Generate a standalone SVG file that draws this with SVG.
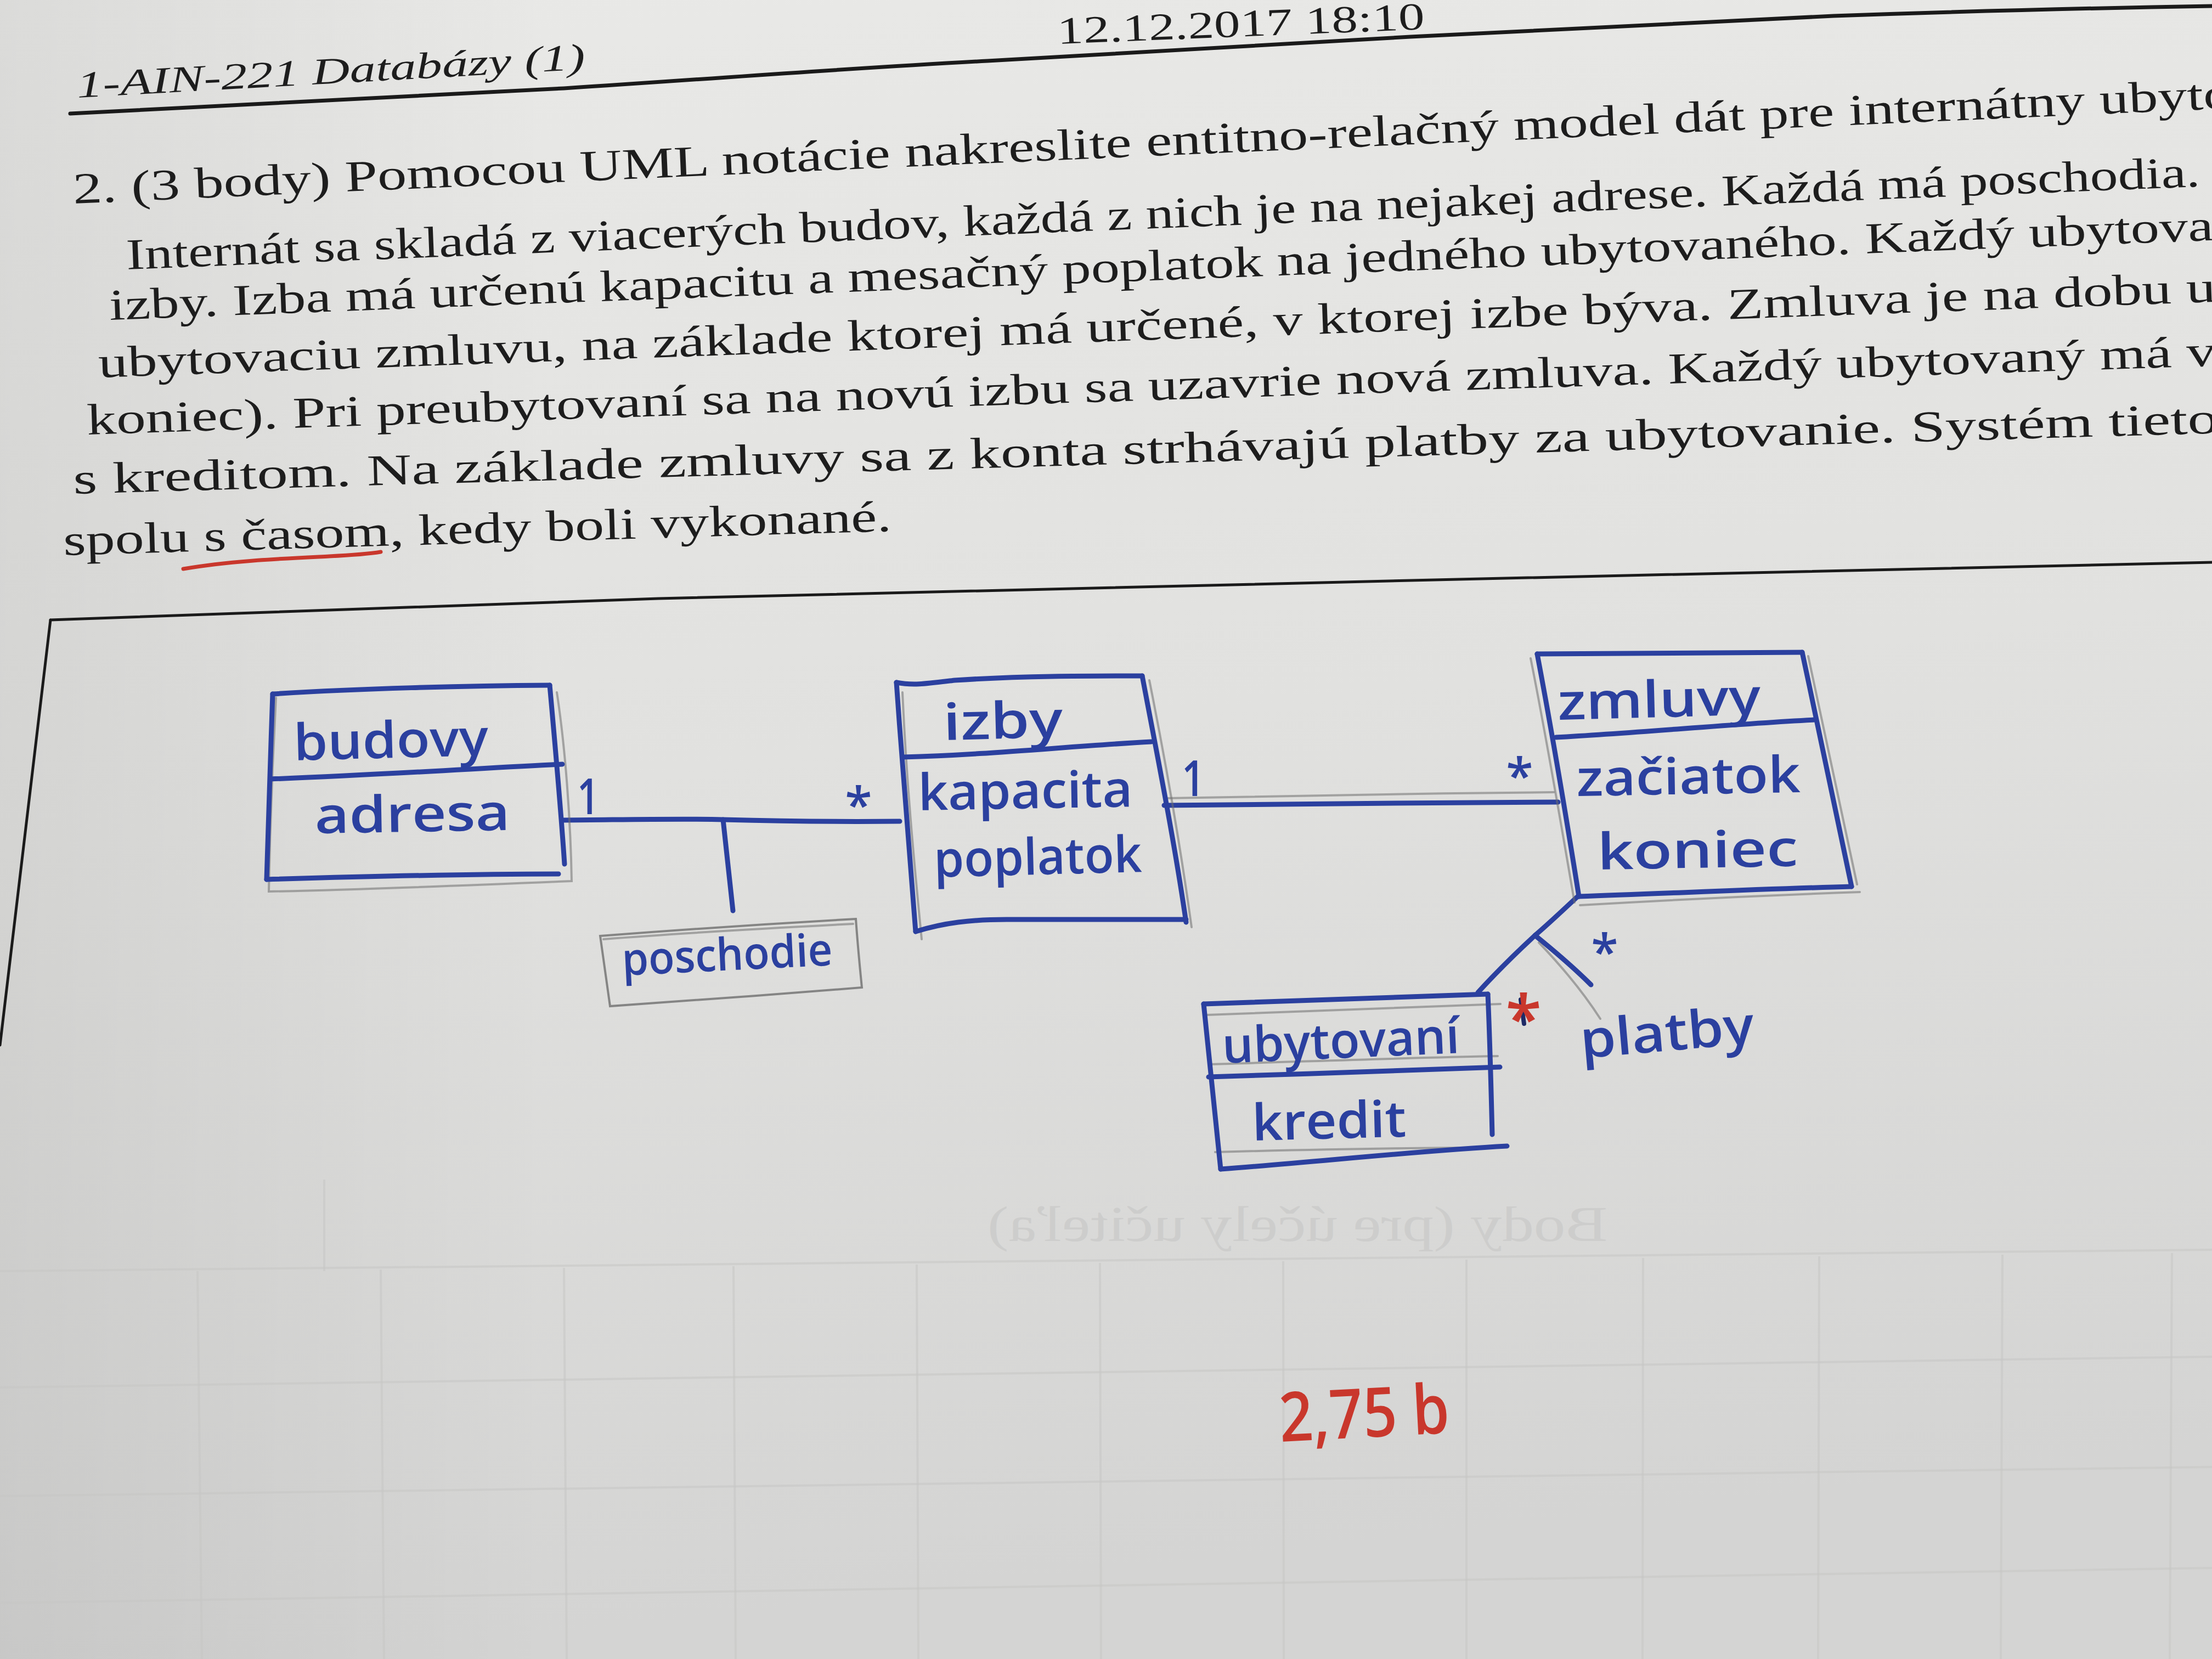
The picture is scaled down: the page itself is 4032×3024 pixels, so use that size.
<svg xmlns="http://www.w3.org/2000/svg" width="4032" height="3024" viewBox="0 0 4032 3024">
  <defs>
    <linearGradient id="paper" x1="0" y1="0" x2="0.15" y2="1">
      <stop offset="0" stop-color="#e9e9e7"/>
      <stop offset="0.5" stop-color="#e1e1df"/>
      <stop offset="1" stop-color="#d4d4d3"/>
    </linearGradient>
    <linearGradient id="leftShade" x1="0" y1="0" x2="1" y2="0">
      <stop offset="0" stop-color="#000" stop-opacity="0.06"/>
      <stop offset="0.25" stop-color="#000" stop-opacity="0"/>
    </linearGradient>
    <style>
      .print { font-family: "Liberation Serif", "DejaVu Serif", serif; fill: #1d1d1d; }
      .para { font-size: 80px; }
      .rule { fill: none; stroke: #1a1a1a; stroke-linecap: round; }
      .ink { fill: none; stroke: #2b409f; stroke-width: 9; stroke-linecap: round; stroke-linejoin: round; }
      .pencil { fill: none; stroke: #6e6e6e; stroke-width: 4; stroke-linecap: round; opacity: 0.55; }
      .hand { font-family: "Open Sans", "Noto Sans", sans-serif; font-weight: 600; fill: #2b409f; }
      .mult { font-family: "Open Sans", "Noto Sans", sans-serif; font-weight: 600; fill: #2b409f; font-size: 90px; }
      .red { font-family: "Open Sans", "Noto Sans", sans-serif; font-weight: 600; fill: #c9372c; }
      .ghost { fill: none; stroke: #c6c6c5; stroke-width: 4; opacity: 0.55; }
      .ghosttext { font-family: "Liberation Serif", serif; fill: #cbcbca; font-size: 90px; opacity: 0.8; }
    </style>
  </defs>

  <!-- paper -->
  <rect x="0" y="0" width="4032" height="3024" fill="url(#paper)"/>
  <rect x="0" y="0" width="4032" height="3024" fill="url(#leftShade)"/>

  <!-- table printed on the back side, showing through -->
  <g id="show-through">
    <path class="ghost" d="M0,2317 L4032,2278"/>
    <path class="ghost" d="M0,2529 L4032,2473"/>
    <path class="ghost" d="M0,2727 L4032,2674"/>
    <path class="ghost" d="M0,2922 L4032,2858"/>
    <path class="ghost" d="M591,2150 L591,2317"/>
    <path class="ghost" d="M360,2317 L368,3024"/>
    <path class="ghost" d="M694,2314 L700,3024"/>
    <path class="ghost" d="M1028,2311 L1033,3024"/>
    <path class="ghost" d="M1337,2308 L1341,3024"/>
    <path class="ghost" d="M1671,2305 L1674,3024"/>
    <path class="ghost" d="M2005,2302 L2007,3024"/>
    <path class="ghost" d="M2339,2299 L2340,3024"/>
    <path class="ghost" d="M2673,2296 L2673,3024"/>
    <path class="ghost" d="M2995,2293 L2994,3024"/>
    <path class="ghost" d="M3316,2290 L3314,3024"/>
    <path class="ghost" d="M3650,2287 L3647,3024"/>
    <path class="ghost" d="M3959,2284 L3955,3024"/>
    <text class="ghosttext" transform="matrix(-1 0 0 1 4730 0)" x="1800" y="2262" textLength="1130" lengthAdjust="spacingAndGlyphs">Body (pre účely učiteľa)</text>
  </g>

  <!-- page header -->
  <g id="header">
    <text class="print" font-style="italic" font-size="68" x="141" y="178" transform="rotate(-3.2 141 178)" textLength="928" lengthAdjust="spacingAndGlyphs">1-AIN-221 Databázy (1)</text>
    <text class="print" font-size="70" x="1928" y="80" transform="rotate(-2.3 1928 80)" textLength="670" lengthAdjust="spacingAndGlyphs">12.12.2017 18:10</text>
    <path class="rule" stroke-width="7" d="M128,207 C500,190 800,175 1028,161 C1350,140 1550,124 1800,111 C2100,96 2350,78 2571,67 C2900,50 3150,37 3342,29 C3600,20 3850,14 4032,11"/>
  </g>

  <!-- assignment text -->
  <g id="assignment">
    <text class="print para" x="134" y="371" transform="rotate(-2.53 134 371)" textLength="3940" lengthAdjust="spacingAndGlyphs">2.  (3 body)  Pomocou UML notácie nakreslite entitno-relačný model dát pre internátny ubyto</text>
    <text class="print para" x="231" y="491" transform="rotate(-2.29 231 491)" textLength="3783" lengthAdjust="spacingAndGlyphs">Internát sa skladá z viacerých budov, každá z nich je na nejakej adrese. Každá má poschodia.</text>
    <text class="print para" x="200" y="583" transform="rotate(-2.17 200 583)" textLength="3838" lengthAdjust="spacingAndGlyphs">izby. Izba má určenú kapacitu a mesačný poplatok na jedného ubytovaného. Každý ubytova</text>
    <text class="print para" x="180" y="688" transform="rotate(-2.05 180 688)" textLength="3862" lengthAdjust="spacingAndGlyphs">ubytovaciu zmluvu, na základe ktorej má určené, v ktorej izbe býva. Zmluva je na dobu u</text>
    <text class="print para" x="159" y="792" transform="rotate(-1.85 159 792)" textLength="3883" lengthAdjust="spacingAndGlyphs">koniec). Pri preubytovaní sa na novú izbu sa uzavrie nová zmluva. Každý ubytovaný má v</text>
    <text class="print para" x="134" y="900" transform="rotate(-1.62 134 900)" textLength="3912" lengthAdjust="spacingAndGlyphs">s kreditom. Na základe zmluvy sa z konta strhávajú platby za ubytovanie. Systém tieto</text>
    <text class="print para" x="116" y="1012" transform="rotate(-1.67 116 1012)" textLength="1510" lengthAdjust="spacingAndGlyphs">spolu s časom, kedy boli vykonané.</text>
    <!-- red marker underline -->
    <path fill="none" stroke="#c9372c" stroke-width="7" stroke-linecap="round" d="M334,1037 C420,1022 520,1018 600,1014 C640,1012 670,1010 694,1006"/>
  </g>

  <!-- answer frame -->
  <g id="frame">
    <path class="rule" stroke-width="5" d="M92,1130 C500,1116 900,1102 1200,1091 C1700,1078 2200,1066 2700,1055 C3200,1044 3650,1033 4032,1025"/>
    <path class="rule" stroke-width="5" d="M92,1130 C62,1390 32,1650 0,1905"/>
  </g>

  <!-- associations -->
  <g id="connectors">
    <path class="ink" d="M1025,1495 C1150,1494 1250,1492 1318,1494 C1430,1497 1540,1498 1640,1497"/>
    <path class="ink" d="M1318,1494 C1324,1550 1330,1605 1336,1660"/>
    <path class="ink" d="M2122,1468 C2350,1466 2600,1463 2840,1462"/>
    <path class="ink" d="M2878,1632 C2850,1658 2825,1682 2798,1705 C2760,1740 2725,1775 2694,1809"/>
    <path class="ink" d="M2798,1705 C2835,1735 2870,1765 2900,1795"/>
    <path class="pencil" d="M2805,1718 C2850,1765 2890,1815 2917,1857"/>
    <path class="pencil" d="M2125,1455 C2400,1450 2600,1446 2832,1444"/>
    <text class="mult" x="1052" y="1484" textLength="40" lengthAdjust="spacingAndGlyphs">1</text>
    <text class="mult" x="1565" y="1500" text-anchor="middle" font-size="100">*</text>
    <text class="mult" x="2154" y="1451" textLength="42" lengthAdjust="spacingAndGlyphs">1</text>
    <text class="mult" x="2770" y="1447" text-anchor="middle" font-size="100">*</text>
    <text class="mult" x="2925" y="1768" text-anchor="middle" font-size="100">*</text>
    <path fill="none" stroke="#1f2a66" stroke-width="8" stroke-linecap="round" d="M2772,1822 L2778,1866"/>
    <text class="red" x="2777" y="1900" text-anchor="middle" font-size="120">*</text>
    <text class="hand" font-size="95" x="2883" y="1929" transform="rotate(-5 2883 1929)" textLength="318" lengthAdjust="spacingAndGlyphs">platby</text>
  </g>

  <!-- entity: budovy -->
  <g id="budovy">
    <path class="pencil" d="M503,1272 C496,1400 492,1520 490,1625 C650,1622 850,1614 1042,1606 C1040,1490 1030,1360 1015,1262"/>
    <path class="ink" d="M497,1265 C650,1255 850,1250 1002,1249"/>
    <path class="ink" d="M497,1265 C493,1380 489,1500 486,1603"/>
    <path class="ink" d="M486,1603 C650,1598 850,1593 1018,1593"/>
    <path class="ink" d="M1002,1249 C1012,1360 1022,1470 1029,1575"/>
    <path class="ink" d="M493,1420 C700,1412 880,1400 1025,1393"/>
    <text class="hand" font-size="92" x="536" y="1386" transform="rotate(-1.5 536 1386)" textLength="355" lengthAdjust="spacingAndGlyphs">budovy</text>
    <text class="hand" font-size="92" x="574" y="1519" transform="rotate(-1 574 1519)" textLength="356" lengthAdjust="spacingAndGlyphs">adresa</text>
  </g>

  <!-- entity: izby -->
  <g id="izby">
    <path class="pencil" d="M1645,1262 C1652,1420 1665,1560 1680,1712 M2095,1240 C2125,1390 2150,1530 2172,1690"/>
    <path class="ink" d="M1634,1244 C1665,1250 1690,1246 1740,1240 C1860,1232 1980,1232 2082,1232"/>
    <path class="ink" d="M1634,1244 C1645,1400 1658,1560 1669,1698"/>
    <path class="ink" d="M2082,1232 C2110,1380 2140,1530 2162,1681"/>
    <path class="ink" d="M1669,1698 C1720,1682 1770,1676 1835,1676 C1950,1676 2060,1676 2162,1676"/>
    <path class="ink" d="M1646,1380 C1800,1376 1950,1360 2099,1352"/>
    <text class="hand" font-size="92" x="1720" y="1349" transform="rotate(-1.5 1720 1349)" textLength="218" lengthAdjust="spacingAndGlyphs">izby</text>
    <text class="hand" font-size="92" x="1674" y="1477" transform="rotate(-1 1674 1477)" textLength="391" lengthAdjust="spacingAndGlyphs">kapacita</text>
    <text class="hand" font-size="92" x="1703" y="1599" transform="rotate(-1.5 1703 1599)" textLength="379" lengthAdjust="spacingAndGlyphs">poplatok</text>
  </g>

  <!-- association class: poschodie -->
  <g id="poschodie">
    <path class="pencil" stroke-width="5" style="opacity:0.8" d="M1094,1706 C1250,1694 1400,1684 1560,1675 C1563,1718 1567,1760 1571,1800 C1420,1812 1260,1824 1112,1834 C1106,1792 1100,1750 1094,1706 Z"/>
    <path class="pencil" d="M1100,1712 C1250,1700 1400,1692 1555,1684"/>
    <text class="hand" font-size="82" x="1135" y="1778" transform="rotate(-2.8 1135 1778)" textLength="384" lengthAdjust="spacingAndGlyphs">poschodie</text>
  </g>

  <!-- entity: zmluvy -->
  <g id="zmluvy">
    <path class="pencil" d="M2790,1200 C2820,1350 2845,1500 2870,1645 M2880,1650 C3050,1640 3220,1632 3390,1626 M3296,1196 C3325,1330 3355,1470 3385,1612"/>
    <path class="ink" d="M2802,1192 C2960,1190 3120,1190 3285,1189"/>
    <path class="ink" d="M2802,1192 C2830,1340 2855,1490 2878,1634"/>
    <path class="ink" d="M3285,1189 C3315,1330 3345,1470 3375,1616"/>
    <path class="ink" d="M2878,1634 C3050,1628 3220,1620 3375,1616"/>
    <path class="ink" d="M2836,1344 C3000,1335 3150,1320 3307,1312"/>
    <text class="hand" font-size="92" x="2840" y="1312" transform="rotate(-1.5 2840 1312)" textLength="370" lengthAdjust="spacingAndGlyphs">zmluvy</text>
    <text class="hand" font-size="92" x="2874" y="1451" transform="rotate(-1 2874 1451)" textLength="408" lengthAdjust="spacingAndGlyphs">začiatok</text>
    <text class="hand" font-size="92" x="2912" y="1585" transform="rotate(-1 2912 1585)" textLength="366" lengthAdjust="spacingAndGlyphs">koniec</text>
  </g>

  <!-- entity: ubytovaní -->
  <g id="ubytovani">
    <path class="pencil" d="M2200,1850 C2380,1842 2560,1835 2735,1830 M2205,1940 C2380,1935 2560,1928 2730,1925 M2215,2100 C2400,2095 2560,2092 2722,2092"/>
    <path class="ink" d="M2194,1830 C2380,1824 2550,1816 2712,1812"/>
    <path class="ink" d="M2194,1830 C2204,1930 2215,2030 2225,2131"/>
    <path class="ink" d="M2712,1812 C2716,1900 2718,1990 2720,2068"/>
    <path class="ink" d="M2225,2131 C2400,2118 2580,2098 2747,2089"/>
    <path class="ink" d="M2203,1963 C2380,1958 2560,1950 2734,1945"/>
    <text class="hand" font-size="90" x="2229" y="1938" transform="rotate(-2.5 2229 1938)" textLength="433" lengthAdjust="spacingAndGlyphs">ubytovaní</text>
    <text class="hand" font-size="92" x="2283" y="2079" transform="rotate(-1.5 2283 2079)" textLength="281" lengthAdjust="spacingAndGlyphs">kredit</text>
  </g>

  <!-- grade -->
  <text class="red" font-size="125" x="2334" y="2628" transform="rotate(-3 2334 2628)" textLength="310" lengthAdjust="spacingAndGlyphs">2,75 b</text>
</svg>
